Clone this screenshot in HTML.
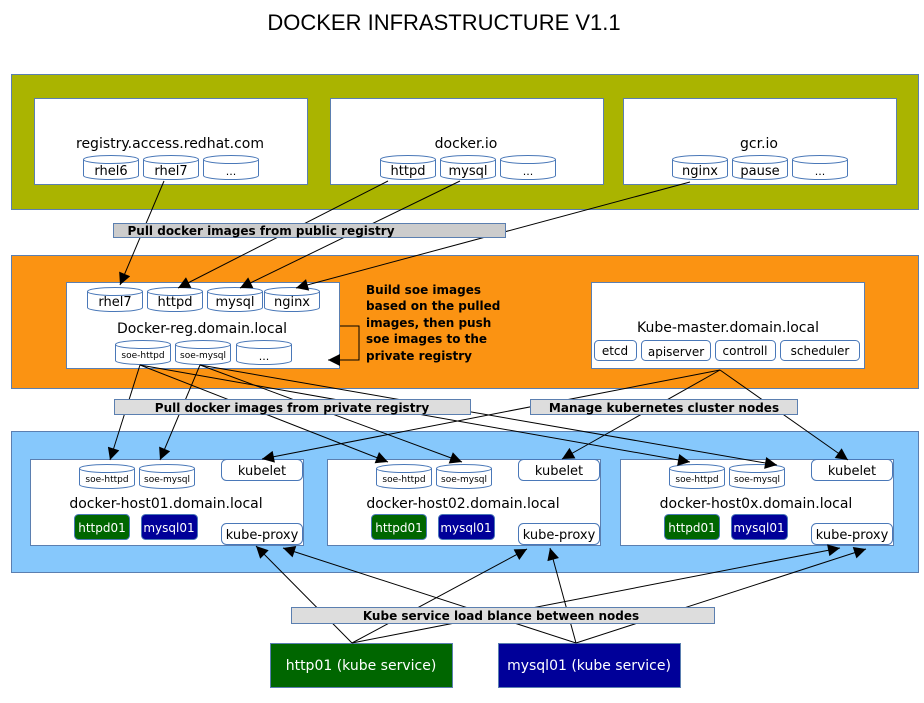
<!DOCTYPE html>
<html><head><meta charset="utf-8"><style>
html,body{margin:0;padding:0;background:#fff;}
svg{display:block;font-family:"DejaVu Sans","Liberation Sans",sans-serif;}
</style></head><body>
<svg width="924" height="703" viewBox="0 0 924 703" xmlns="http://www.w3.org/2000/svg">
<defs>
<symbol id="cyl" viewBox="0 0 56 25" width="56" height="25">
<path d="M0.5,4.5 A27.5,4 0 0 1 55.5,4.5 V20.5 A27.5,4 0 0 1 0.5,20.5 Z" fill="#fff" stroke="#4a78b8" stroke-width="1"/>
<path d="M0.5,4.5 A27.5,4 0 0 0 55.5,4.5" fill="none" stroke="#4a78b8" stroke-width="1"/>
</symbol>
<marker id="ah" viewBox="0 0 10 10" refX="10" refY="5" markerWidth="14" markerHeight="12" markerUnits="userSpaceOnUse" orient="auto"><path d="M0,0 L10,5 L0,10 z" fill="#000"/></marker>
</defs>
<text x="444" y="30" font-size="22" text-anchor="middle" font-family="Liberation Sans, sans-serif">DOCKER INFRASTRUCTURE V1.1</text>

<rect x="11.5" y="74.5" width="907" height="135" fill="#aab400" stroke="#5b7fb0"/>
<rect x="34.5" y="98.5" width="273" height="86" fill="#fff" stroke="#5b7fb0"/>
<rect x="330.5" y="98.5" width="273" height="86" fill="#fff" stroke="#5b7fb0"/>
<rect x="623.5" y="98.5" width="273" height="86" fill="#fff" stroke="#5b7fb0"/>
<g font-size="14" text-anchor="middle">
<text x="170" y="148">registry.access.redhat.com</text>
<text x="466" y="148">docker.io</text>
<text x="759" y="148">gcr.io</text>
</g>
<g font-size="13" text-anchor="middle">
<use href="#cyl" x="83" y="155"/><text x="111" y="175">rhel6</text>
<use href="#cyl" x="143" y="155"/><text x="171" y="175">rhel7</text>
<use href="#cyl" x="203" y="155"/><text x="231" y="175" font-size="11">...</text>
<use href="#cyl" x="380" y="155"/><text x="408" y="175">httpd</text>
<use href="#cyl" x="440" y="155"/><text x="468" y="175">mysql</text>
<use href="#cyl" x="500" y="155"/><text x="528" y="175" font-size="11">...</text>
<use href="#cyl" x="672" y="155"/><text x="700" y="175">nginx</text>
<use href="#cyl" x="732" y="155"/><text x="760" y="175">pause</text>
<use href="#cyl" x="792" y="155"/><text x="820" y="175" font-size="11">...</text>
</g>

<rect x="11.5" y="255.5" width="907" height="133" fill="#fb9312" stroke="#5b7fb0"/>
<rect x="66.5" y="282.5" width="273" height="86" fill="#fff" stroke="#5b7fb0"/>
<rect x="591.5" y="282.5" width="273" height="86" fill="#fff" stroke="#5b7fb0"/>
<g font-size="13" text-anchor="middle">
<use href="#cyl" x="87" y="287"/><text x="115" y="306">rhel7</text>
<use href="#cyl" x="147" y="287"/><text x="175" y="306">httpd</text>
<use href="#cyl" x="207" y="287"/><text x="235" y="306">mysql</text>
<use href="#cyl" x="264" y="287"/><text x="292" y="306">nginx</text>
</g>
<text x="202" y="333" font-size="14" text-anchor="middle">Docker-reg.domain.local</text>
<g font-size="9" text-anchor="middle">
<use href="#cyl" x="115" y="340"/><text x="143" y="358">soe-httpd</text>
<use href="#cyl" x="175" y="340"/><text x="203" y="358">soe-mysql</text>
<use href="#cyl" x="236" y="340"/><text x="264" y="360" font-size="11">...</text>
</g>
<path d="M340,326 H359 V360 H328" fill="none" stroke="#000" stroke-width="1" marker-end="url(#ah)"/>
<g font-size="12" font-weight="bold">
<text x="366" y="294">Build soe images</text>
<text x="366" y="310">based on the pulled</text>
<text x="366" y="327">images, then push</text>
<text x="366" y="343">soe images to the</text>
<text x="366" y="360">private registry</text>
</g>
<text x="728" y="332" font-size="14" text-anchor="middle">Kube-master.domain.local</text>
<g fill="#fff" stroke="#4a78b8">
<rect x="594.5" y="340.5" width="42" height="20" rx="4"/>
<rect x="641.5" y="340.5" width="69" height="20" rx="4"/>
<rect x="715.5" y="340.5" width="60" height="20" rx="4"/>
<rect x="780.5" y="340.5" width="79" height="20" rx="4"/>
</g>
<g font-size="12" text-anchor="middle">
<text x="615" y="355">etcd</text><text x="676" y="356">apiserver</text><text x="745" y="355">controll</text><text x="820" y="355">scheduler</text>
</g>

<rect x="11.5" y="431.5" width="907" height="141" fill="#86c8fc" stroke="#5b7fb0"/>
<g id="host">
<rect x="30.5" y="459.5" width="273" height="86" fill="#fff" stroke="#5b7fb0"/>
<use href="#cyl" x="79" y="464"/><use href="#cyl" x="139" y="464"/>
<g font-size="9" text-anchor="middle"><text x="107" y="482">soe-httpd</text><text x="167" y="482">soe-mysql</text></g>
<rect x="221.5" y="459.5" width="81" height="21" rx="5" fill="#fff" stroke="#4a78b8"/>
<text x="262" y="475" font-size="13" text-anchor="middle">kubelet</text>
<rect x="74.5" y="514.5" width="55" height="25" rx="4" fill="#006600" stroke="#4a78b8"/>
<rect x="141.5" y="514.5" width="56" height="25" rx="4" fill="#000099" stroke="#4a78b8"/>
<g font-size="12" fill="#fff" text-anchor="middle"><text x="102" y="532">httpd01</text><text x="169" y="532">mysql01</text></g>
<rect x="221.5" y="523.5" width="81" height="21" rx="5" fill="#fff" stroke="#4a78b8"/>
<text x="262" y="539" font-size="13" text-anchor="middle">kube-proxy</text>
</g>
<use href="#host" x="297"/>
<use href="#host" x="590"/>
<g font-size="14" text-anchor="middle">
<text x="166" y="508">docker-host01.domain.local</text>
<text x="463" y="508">docker-host02.domain.local</text>
<text x="756" y="508">docker-host0x.domain.local</text>
</g>

<rect x="270.5" y="643.5" width="182" height="44" fill="#006600" stroke="#5b7fb0"/>
<rect x="498.5" y="643.5" width="182" height="44" fill="#000099" stroke="#5b7fb0"/>
<g font-size="14" fill="#fff" text-anchor="middle">
<text x="361" y="670">http01 (kube service)</text>
<text x="589" y="670">mysql01 (kube service)</text>
</g>

<g stroke="#000" stroke-width="1" fill="none" marker-end="url(#ah)">
<path d="M164,181 L120,285"/>
<path d="M388,181 L178,288"/>
<path d="M460,181 L240,288"/>
<path d="M690,182 L296,288"/>
<path d="M140,365 L110,460"/>
<path d="M200,365 L160,460"/>
<path d="M140,365 L388,462"/>
<path d="M140,365 L690,462"/>
<path d="M200,365 L462,462"/>
<path d="M200,365 L777,465"/>
<path d="M720,370 L262,459"/>
<path d="M720,370 L562,459"/>
<path d="M720,370 L848,460"/>
<path d="M352,643 L256,546"/>
<path d="M352,643 L527,549"/>
<path d="M352,643 L840,548"/>
<path d="M576,643 L283,548"/>
<path d="M576,643 L550,548"/>
<path d="M576,643 L866,549"/>
</g>

<rect x="113.5" y="223.5" width="392" height="14" fill="#cccccc" stroke="#5b7fb0"/>
<text x="261" y="235" font-size="12" font-weight="bold" text-anchor="middle">Pull docker images from public registry</text>
<rect x="114.5" y="399.5" width="356" height="15" fill="#dddddd" stroke="#5b7fb0"/>
<text x="292" y="412" font-size="12" font-weight="bold" text-anchor="middle">Pull docker images from private registry</text>
<rect x="530.5" y="399.5" width="267" height="15" fill="#dddddd" stroke="#5b7fb0"/>
<text x="664" y="412" font-size="12" font-weight="bold" text-anchor="middle">Manage kubernetes cluster nodes</text>
<rect x="291.5" y="607.5" width="423" height="16" fill="#dddddd" stroke="#5b7fb0"/>
<text x="501" y="620" font-size="12" font-weight="bold" text-anchor="middle">Kube service load blance between nodes</text>
</svg>
</body></html>
